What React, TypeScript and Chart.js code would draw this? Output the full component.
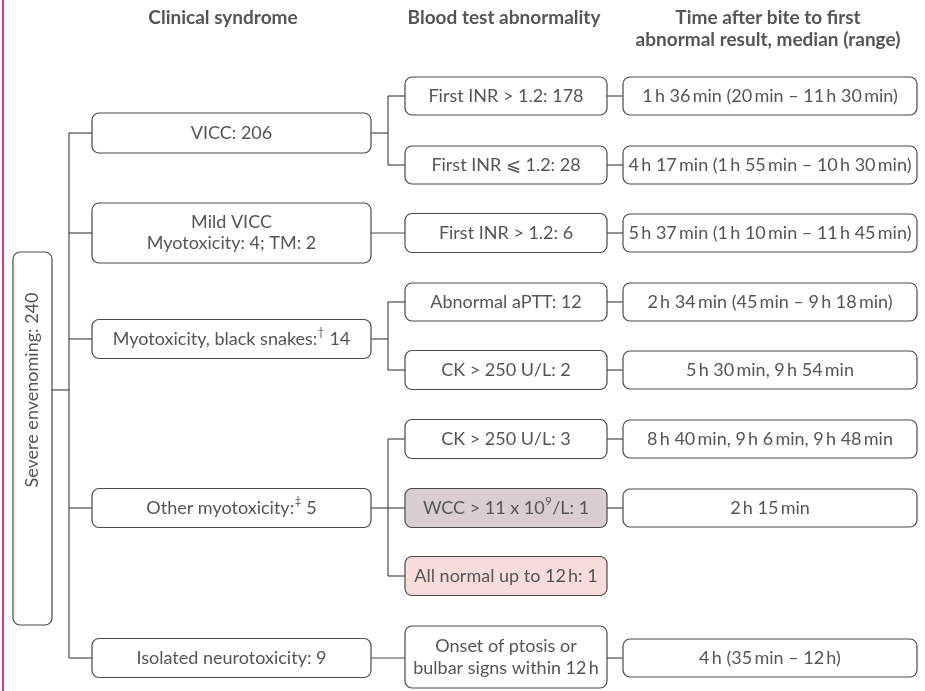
import React, { useEffect, useRef } from "react";
import { Chart, registerables } from "chart.js";

Chart.register(...registerables);

// ---------- DATA ----------
const headers = [
  "Clinical syndrome",
  "Blood test abnormality",
  "Time after bite to first\nabnormal result, median (range)",
];
const rootLabel = "Severe envenoming: 240";
const syndromeLabels = [
  "VICC: 206",
  "Mild VICC\nMyotoxicity: 4; TM: 2",
  "Myotoxicity, black snakes:^{†} 14",
  "Other myotoxicity:^{‡} 5",
  "Isolated neurotoxicity: 9",
];
const testLabels = [
  "First INR > 1.2: 178",
  "First INR ⩽ 1.2: 28",
  "First INR > 1.2: 6",
  "Abnormal aPTT: 12",
  "CK > 250 U/L: 2",
  "CK > 250 U/L: 3",
  "WCC > 11 x 10^{9}/L: 1",
  "All normal up to 12\u2009h: 1",
  "Onset of ptosis or\nbulbar signs within 12\u2009h",
];
const testParent = [0, 0, 1, 2, 2, 3, 3, 3, 4];
const timeLabels: (string | null)[] = [
  "1\u2009h 36\u2009min (20\u2009min – 11\u2009h 30\u2009min)",
  "4\u2009h 17\u2009min (1\u2009h 55\u2009min – 10\u2009h 30\u2009min)",
  "5\u2009h 37\u2009min (1\u2009h 10\u2009min – 11\u2009h 45\u2009min)",
  "2\u2009h 34\u2009min (45\u2009min – 9\u2009h 18\u2009min)",
  "5\u2009h 30\u2009min, 9\u2009h 54\u2009min",
  "8\u2009h 40\u2009min, 9\u2009h 6\u2009min, 9\u2009h 48\u2009min",
  "2\u2009h 15\u2009min",
  null,
  "4\u2009h (35\u2009min – 12\u2009h)",
];

// ---------- LAYOUT (positions/sizes in scale units) ----------
const W = 925;
const H = 691;
const headerX = [223, 504, 768];
const headerY = 18;
const rootBox = { x0: 13, x1: 52, y0: 252, y1: 625, textY: 390 };
const trunkX = 69;
const synX = [92, 371];
const synY = [133, 233, 339, 508, 658];
const synH = [40, 60, 39, 39, 39];
const branchX = 388;
const testX = [405, 607];
const testY = [96, 165, 233, 302, 370, 439, 508, 576, 657];
const testH = [38, 38, 39, 38, 39, 39, 39, 39, 62];
const timeX = [623, 917];
const timeY = [96, 165, 233, 302, 370, 439, 508, 576, 658];
const timeH = 38;

// ---------- STYLE ----------
const FONT = "Lato, 'Noto Sans', sans-serif";
const TEXT = "#555555";
const LINE = "#4a4a4a";
const SIZE = 18;
const testFill: Record<number, string> = { 6: "#d9cdd4", 7: "#f8dcdc" };

type Seg = { t: string; sup: boolean };
function parse(s: string): Seg[] {
  const out: Seg[] = [];
  const re = /\^\{([^}]*)\}/g;
  let last = 0;
  let m: RegExpExecArray | null;
  while ((m = re.exec(s))) {
    if (m.index > last) out.push({ t: s.slice(last, m.index), sup: false });
    out.push({ t: m[1], sup: true });
    last = m.index + m[0].length;
  }
  if (last < s.length) out.push({ t: s.slice(last), sup: false });
  return out;
}

function drawRich(ctx: CanvasRenderingContext2D, s: string, cx: number, cy: number, size: number, bold = false) {
  const segs = parse(s);
  const w = (b: boolean, sz: number) => `${b ? "bold " : ""}${sz}px ${FONT}`;
  let total = 0;
  const widths = segs.map((g) => {
    ctx.font = w(bold, g.sup ? size * 0.62 : size);
    const ww = ctx.measureText(g.t).width + (g.sup ? 1 : 0);
    total += ww;
    return ww;
  });
  let x = cx - total / 2;
  ctx.textBaseline = "middle";
  ctx.textAlign = "left";
  segs.forEach((g, i) => {
    ctx.font = w(bold, g.sup ? size * 0.62 : size);
    ctx.fillText(g.t, x + (g.sup ? 0.5 : 0), g.sup ? cy - size * 0.38 : cy);
    x += widths[i];
  });
}

function drawLines(ctx: CanvasRenderingContext2D, s: string, cx: number, cy: number, size: number, lh: number, bold = false, top = false) {
  const lines = s.split("\n");
  const start = top ? cy : cy - ((lines.length - 1) * lh) / 2;
  lines.forEach((l, i) => drawRich(ctx, l, cx, start + i * lh, size, bold));
}

function rrect(ctx: CanvasRenderingContext2D, x0: number, y0: number, x1: number, y1: number, r: number, fill?: string) {
  ctx.beginPath();
  ctx.roundRect(x0, y0, x1 - x0, y1 - y0, r);
  if (fill) {
    ctx.fillStyle = fill;
    ctx.fill();
  }
  ctx.strokeStyle = LINE;
  ctx.lineWidth = 1.2;
  ctx.stroke();
}

const flowPlugin = {
  id: "flow",
  afterDraw(chart: any) {
    const ctx: CanvasRenderingContext2D = chart.ctx;
    const xs = chart.scales.x;
    const ys = chart.scales.y;
    const X = (v: number) => xs.getPixelForValue(v);
    const Y = (v: number) => ys.getPixelForValue(v);
    ctx.save();

    // left accent rule
    ctx.fillStyle = "#d6338a";
    ctx.fillRect(X(2), Y(0), X(4) - X(2), Y(H) - Y(0));

    // headers
    ctx.fillStyle = TEXT;
    headers.forEach((h, i) => drawLines(ctx, h, X(headerX[i]), Y(headerY), 19, 22, true, true));

    // connectors
    ctx.strokeStyle = LINE;
    ctx.lineWidth = 1.2;
    const seg = (x0: number, y0: number, x1: number, y1: number) => {
      ctx.beginPath();
      ctx.moveTo(X(x0), Y(y0));
      ctx.lineTo(X(x1), Y(y1));
      ctx.stroke();
    };
    seg(rootBox.x1, rootBox.textY, trunkX, rootBox.textY);
    seg(trunkX, synY[0], trunkX, synY[synY.length - 1]);
    synY.forEach((y) => seg(trunkX, y, synX[0], y));
    syndromeLabels.forEach((_, si) => {
      const kids = testParent.map((p, i) => (p === si ? i : -1)).filter((i) => i >= 0);
      if (kids.length === 1) {
        seg(synX[1], synY[si], testX[0], synY[si]);
      } else {
        seg(synX[1], synY[si], branchX, synY[si]);
        seg(branchX, testY[kids[0]], branchX, testY[kids[kids.length - 1]]);
        kids.forEach((k) => seg(branchX, testY[k], testX[0], testY[k]));
      }
    });
    timeLabels.forEach((t, i) => {
      if (t) seg(testX[1], timeY[i], timeX[0], timeY[i]);
    });

    // root box
    rrect(ctx, X(rootBox.x0), Y(rootBox.y0), X(rootBox.x1), Y(rootBox.y1), 7, "#ffffff");
    ctx.save();
    ctx.translate(X((rootBox.x0 + rootBox.x1) / 2), Y(rootBox.textY));
    ctx.rotate(-Math.PI / 2);
    ctx.fillStyle = TEXT;
    drawRich(ctx, rootLabel, 0, 0, SIZE);
    ctx.restore();

    // syndrome boxes
    syndromeLabels.forEach((s, i) => {
      rrect(ctx, X(synX[0]), Y(synY[i] - synH[i] / 2), X(synX[1]), Y(synY[i] + synH[i] / 2), 7, "#ffffff");
      ctx.fillStyle = TEXT;
      drawLines(ctx, s, X((synX[0] + synX[1]) / 2), Y(synY[i]), SIZE, 21);
    });

    // test boxes
    testLabels.forEach((s, i) => {
      rrect(ctx, X(testX[0]), Y(testY[i] - testH[i] / 2), X(testX[1]), Y(testY[i] + testH[i] / 2), 7, testFill[i] || "#ffffff");
      ctx.fillStyle = TEXT;
      drawLines(ctx, s, X((testX[0] + testX[1]) / 2), Y(testY[i]), SIZE, 22);
    });

    // time boxes
    timeLabels.forEach((s, i) => {
      if (!s) return;
      rrect(ctx, X(timeX[0]), Y(timeY[i] - timeH / 2), X(timeX[1]), Y(timeY[i] + timeH / 2), 7, "#ffffff");
      ctx.fillStyle = TEXT;
      drawLines(ctx, s, X((timeX[0] + timeX[1]) / 2), Y(timeY[i]), SIZE, 22);
    });

    ctx.restore();
  },
};

export default function App() {
  const ref = useRef<HTMLCanvasElement | null>(null);
  useEffect(() => {
    if (!ref.current) return;
    const chart = new Chart(ref.current, {
      type: "scatter",
      data: {
        datasets: [
          {
            data: testY.map((y) => ({ x: (testX[0] + testX[1]) / 2, y })),
            pointRadius: 0,
            pointHoverRadius: 0,
          },
        ],
      },
      options: {
        animation: false,
        responsive: true,
        maintainAspectRatio: false,
        layout: { padding: 0 },
        events: [],
        plugins: { legend: { display: false }, tooltip: { enabled: false } },
        scales: {
          x: { type: "linear", display: false, min: 0, max: W },
          y: { type: "linear", display: false, min: 0, max: H, reverse: true },
        },
      },
      plugins: [flowPlugin],
    });
    return () => chart.destroy();
  }, []);
  return (
    <div style={{ position: "fixed", left: 0, top: 0, width: W, height: H, background: "#ffffff" }}>
      <canvas ref={ref} />
    </div>
  );
}
